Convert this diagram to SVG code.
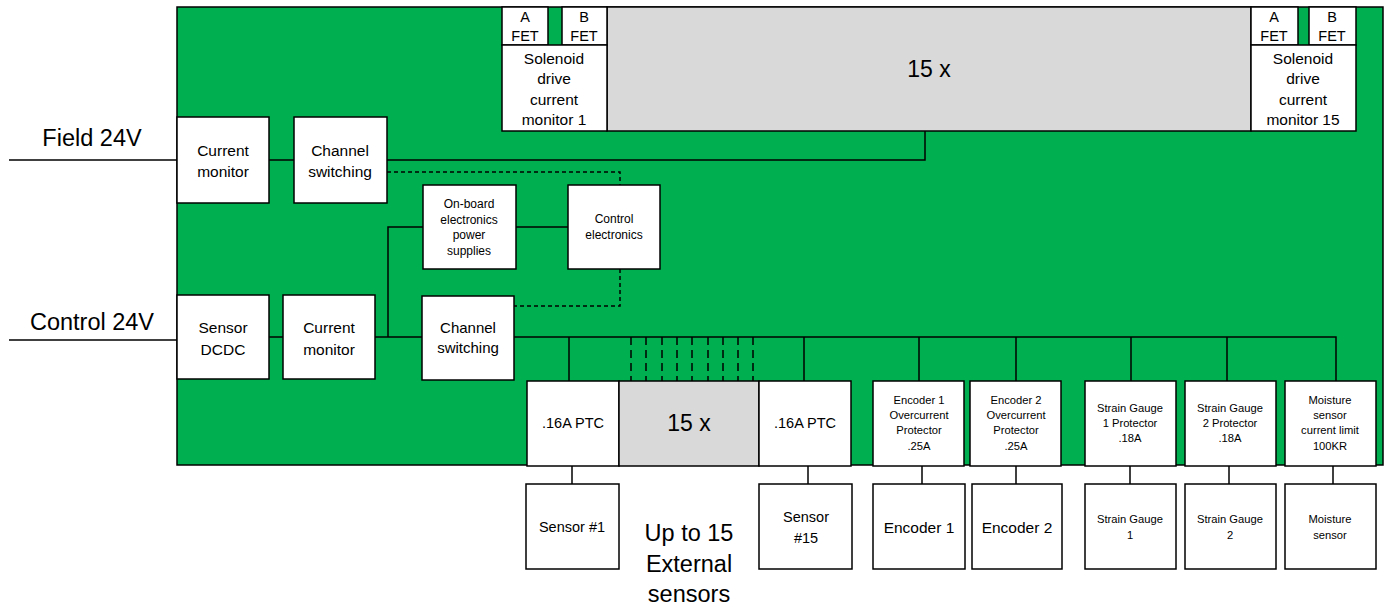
<svg xmlns="http://www.w3.org/2000/svg" width="1391" height="610" viewBox="0 0 1391 610">
<style>
.b{fill:#fff;stroke:#000;stroke-width:1.5}
.g{fill:#d9d9d9;stroke:#000;stroke-width:1.5}
.c{fill:none;stroke:#000;stroke-width:1.5}
.d{fill:none;stroke:#000;stroke-width:1.5;stroke-dasharray:4,3}
.dv{fill:none;stroke:#000;stroke-width:1.5;stroke-dasharray:8,5}
text{font-family:"Liberation Sans","Open Sans",sans-serif;text-anchor:middle;dominant-baseline:central;fill:#000}
.t16{font-size:15.5px}
.t15{font-size:15px}
.t14{font-size:14.5px}
.t13{font-size:13px}
.t12{font-size:12px}
.t11{font-size:11.2px}
.t23{font-size:23px}
.t24{font-size:23.5px}
</style>
<rect id="board" x="177" y="7" width="1206" height="458" fill="#00b050" stroke="#000" stroke-width="1.5"/>
<g id="connectors">
<line class="c" x1="9" y1="160" x2="177" y2="160"/>
<line class="c" x1="9" y1="340" x2="177" y2="340"/>
<line class="c" x1="269" y1="160" x2="294" y2="160"/>
<polyline class="c" points="387,160 925,160 925,131"/>
<polyline class="d" points="387,172 620,172 620,185"/>
<polyline class="d" points="620,269 620,306 514,306"/>
<line class="c" x1="516" y1="227" x2="568" y2="227"/>
<polyline class="c" points="423,227 388,227 388,337"/>
<line class="c" x1="269" y1="337" x2="283" y2="337"/>
<line class="c" x1="375" y1="337" x2="422" y2="337"/>
<polyline class="c" points="514,337 1336,337 1336,381"/>
<line class="c" x1="569" y1="337" x2="569" y2="381"/>
<line class="c" x1="804" y1="337" x2="804" y2="381"/>
<line class="c" x1="919" y1="337" x2="919" y2="381"/>
<line class="c" x1="1016" y1="337" x2="1016" y2="381"/>
<line class="c" x1="1131" y1="337" x2="1131" y2="381"/>
<line class="c" x1="1227" y1="337" x2="1227" y2="381"/>
<g class="dv">
<line x1="631" y1="337" x2="631" y2="381"/>
<line x1="646" y1="337" x2="646" y2="381"/>
<line x1="662" y1="337" x2="662" y2="381"/>
<line x1="677" y1="337" x2="677" y2="381"/>
<line x1="692" y1="337" x2="692" y2="381"/>
<line x1="708" y1="337" x2="708" y2="381"/>
<line x1="723" y1="337" x2="723" y2="381"/>
<line x1="738" y1="337" x2="738" y2="381"/>
<line x1="753" y1="337" x2="753" y2="381"/>
</g>
<line class="c" x1="572" y1="466" x2="572" y2="484"/>
<line class="c" x1="808" y1="466" x2="808" y2="484"/>
<line class="c" x1="922" y1="466" x2="922" y2="484"/>
<line class="c" x1="1016" y1="466" x2="1016" y2="484"/>
<line class="c" x1="1130" y1="466" x2="1130" y2="484"/>
<line class="c" x1="1229" y1="466" x2="1229" y2="484"/>
<line class="c" x1="1333" y1="466" x2="1333" y2="484"/>
</g>
<g id="labels">
<text x="92" y="138" class="t24">Field 24V</text>
<text x="92" y="322" class="t24">Control 24V</text>
<text x="689" y="533" class="t24">Up to 15</text>
<text x="689" y="564" class="t24">External</text>
<text x="689" y="594" class="t24">sensors</text>
</g>
<g id="sol-gray"><rect class="g" x="607" y="7" width="644" height="124"/><text x="929" y="69" class="t23">15 x</text></g>
<g id="afet1"><rect class="b" x="502" y="7" width="46" height="38"/><text x="525" y="17" class="t14">A</text><text x="525" y="36" class="t14">FET</text></g>
<g id="bfet1"><rect class="b" x="562" y="7" width="45" height="38"/><text x="584" y="17" class="t14">B</text><text x="584" y="36" class="t14">FET</text></g>
<g id="sol1"><rect class="b" x="502" y="45" width="105" height="86"/><text x="554" y="58" class="t16">Solenoid</text><text x="554" y="78" class="t16">drive</text><text x="554" y="99" class="t16">current</text><text x="554" y="119" class="t16">monitor 1</text></g>
<g id="afet15"><rect class="b" x="1251" y="7" width="47" height="38"/><text x="1274" y="17" class="t14">A</text><text x="1274" y="36" class="t14">FET</text></g>
<g id="bfet15"><rect class="b" x="1309" y="7" width="47" height="38"/><text x="1332" y="17" class="t14">B</text><text x="1332" y="36" class="t14">FET</text></g>
<g id="sol15"><rect class="b" x="1251" y="45" width="105" height="86"/><text x="1303" y="58" class="t16">Solenoid</text><text x="1303" y="78" class="t16">drive</text><text x="1303" y="99" class="t16">current</text><text x="1303" y="119" class="t16">monitor 15</text></g>
<g id="curmon-field"><rect class="b" x="177" y="117" width="92" height="86"/><text x="223" y="150" class="t16">Current</text><text x="223" y="171" class="t16">monitor</text></g>
<g id="chsw-field"><rect class="b" x="294" y="117" width="93" height="86"/><text x="340" y="150" class="t16">Channel</text><text x="340" y="171" class="t16">switching</text></g>
<g id="onboard"><rect class="b" x="423" y="185" width="93" height="84"/><text x="469" y="204" class="t12">On-board</text><text x="469" y="220" class="t12">electronics</text><text x="469" y="235" class="t12">power</text><text x="469" y="251" class="t12">supplies</text></g>
<g id="control"><rect class="b" x="568" y="185" width="92" height="84"/><text x="614" y="219" class="t12">Control</text><text x="614" y="235" class="t12">electronics</text></g>
<g id="dcdc"><rect class="b" x="177" y="295" width="92" height="84"/><text x="223" y="327" class="t16">Sensor</text><text x="223" y="349" class="t16">DCDC</text></g>
<g id="curmon-ctrl"><rect class="b" x="283" y="295" width="92" height="84"/><text x="329" y="327" class="t16">Current</text><text x="329" y="349" class="t16">monitor</text></g>
<g id="chsw-ctrl"><rect class="b" x="422" y="296" width="92" height="84"/><text x="468" y="327" class="t15">Channel</text><text x="468" y="347" class="t15">switching</text></g>
<g id="ptc1"><rect class="b" x="527" y="381" width="92" height="85"/><text x="573" y="423" class="t14">.16A PTC</text></g>
<g id="ptc-gray"><rect class="g" x="619" y="381" width="140" height="85"/><text x="689" y="423" class="t23">15 x</text></g>
<g id="ptc15"><rect class="b" x="759" y="381" width="92" height="85"/><text x="805" y="423" class="t14">.16A PTC</text></g>
<g id="enc1oc"><rect class="b" x="873" y="381" width="91" height="85"/><text x="919" y="400" class="t11">Encoder 1</text><text x="919" y="415" class="t11">Overcurrent</text><text x="919" y="430" class="t11">Protector</text><text x="919" y="446" class="t11">.25A</text></g>
<g id="enc2oc"><rect class="b" x="970" y="381" width="91" height="85"/><text x="1016" y="400" class="t11">Encoder 2</text><text x="1016" y="415" class="t11">Overcurrent</text><text x="1016" y="430" class="t11">Protector</text><text x="1016" y="446" class="t11">.25A</text></g>
<g id="sg1p"><rect class="b" x="1085" y="381" width="91" height="85"/><text x="1130" y="408" class="t11">Strain Gauge</text><text x="1130" y="423" class="t11">1 Protector</text><text x="1130" y="438" class="t11">.18A</text></g>
<g id="sg2p"><rect class="b" x="1185" y="381" width="91" height="85"/><text x="1230" y="408" class="t11">Strain Gauge</text><text x="1230" y="423" class="t11">2 Protector</text><text x="1230" y="438" class="t11">.18A</text></g>
<g id="moistp"><rect class="b" x="1285" y="381" width="91" height="85"/><text x="1330" y="400" class="t11">Moisture</text><text x="1330" y="415" class="t11">sensor</text><text x="1330" y="430" class="t11">current limit</text><text x="1330" y="446" class="t11">100KR</text></g>
<g id="sensor1"><rect class="b" x="526" y="484" width="93" height="85"/><text x="572" y="527" class="t14">Sensor #1</text></g>
<g id="sensor15"><rect class="b" x="759" y="484" width="93" height="85"/><text x="806" y="517" class="t14">Sensor</text><text x="806" y="538" class="t14">#15</text></g>
<g id="enc1"><rect class="b" x="873" y="484" width="92" height="85"/><text x="919" y="527" class="t16">Encoder 1</text></g>
<g id="enc2"><rect class="b" x="972" y="484" width="90" height="85"/><text x="1017" y="527" class="t16">Encoder 2</text></g>
<g id="sg1"><rect class="b" x="1085" y="484" width="91" height="85"/><text x="1130" y="519" class="t11">Strain Gauge</text><text x="1130" y="535" class="t11">1</text></g>
<g id="sg2"><rect class="b" x="1185" y="484" width="91" height="85"/><text x="1230" y="519" class="t11">Strain Gauge</text><text x="1230" y="535" class="t11">2</text></g>
<g id="moist"><rect class="b" x="1285" y="484" width="91" height="85"/><text x="1330" y="519" class="t11">Moisture</text><text x="1330" y="535" class="t11">sensor</text></g>
</svg>
